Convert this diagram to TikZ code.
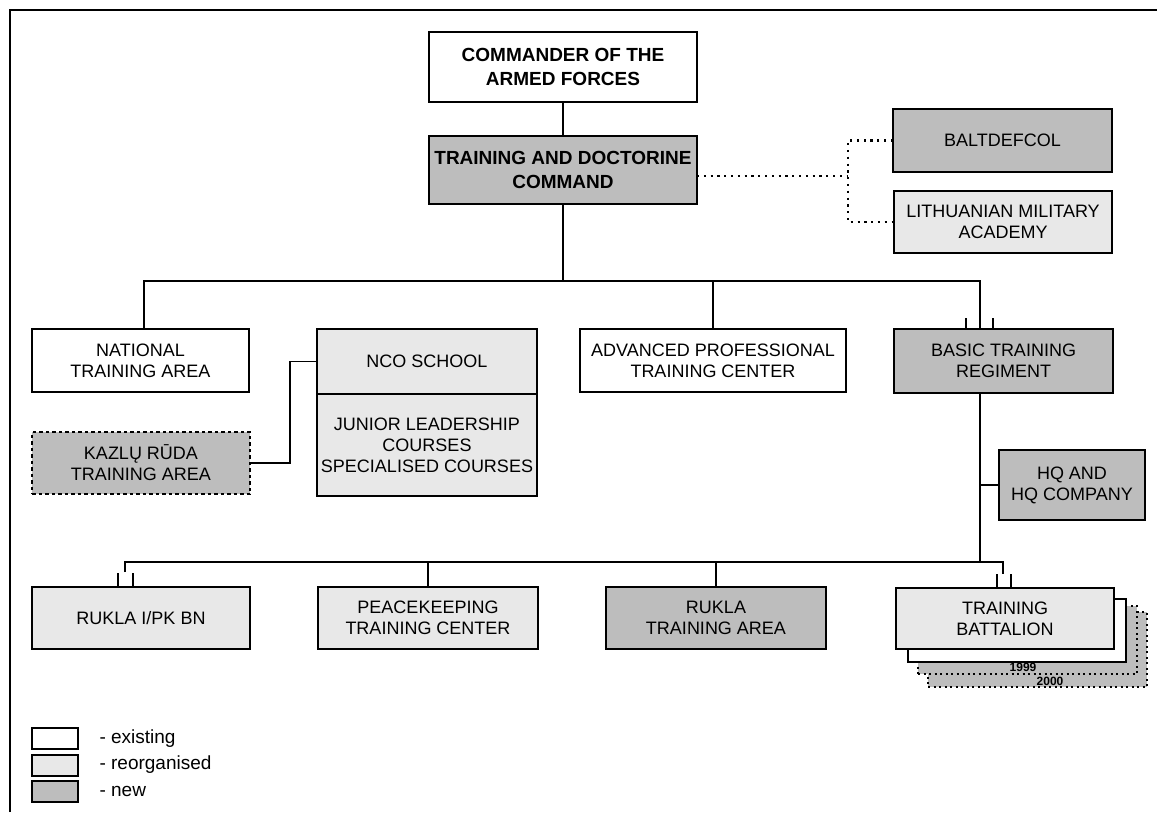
\documentclass[tikz,border=0pt]{standalone}
\usepackage{fontspec}
\setmainfont{Liberation Sans}
\definecolor{newfill}{gray}{0.74}
\definecolor{reofill}{gray}{0.91}
\begin{document}
\begin{tikzpicture}[x=1pt,y=-1pt,
  box/.style={draw, line width=2pt, align=center, inner sep=1pt, outer sep=0pt,
              font=\fontsize{18}{21}\selectfont},
  boldbox/.style={box, font=\fontsize{19}{24}\selectfont\bfseries},
  sz/.style 2 args={minimum width=#1pt, minimum height=#2pt},
  existing/.style={fill=white},
  reorg/.style={fill=reofill},
  newunit/.style={fill=newfill},
  conn/.style={line width=1.6pt},
  dotconn/.style={line width=2.2pt, dash pattern=on 2.2pt off 4.6pt},
  dashbox/.style={dash pattern=on 3.5pt off 3pt},
  dotbox/.style={draw, line width=2pt, dash pattern=on 2pt off 3.5pt, fill=newfill},
  legtext/.style={anchor=west, font=\fontsize{19}{22}\selectfont},
  yeartext/.style={font=\fontsize{12}{14}\selectfont\bfseries, inner sep=0pt},
]
\useasboundingbox (0,0) rectangle (1157,812);

% frame
\draw[line width=1.6pt] (10,812) -- (10,10) -- (1157,10);

% top
\node[boldbox, existing, sz={268}{70}] (cmd) at (563,67) {COMMANDER OF THE\\ARMED FORCES};
\node[boldbox, newunit, sz={268}{68}] (tradoc) at (563,170) {TRAINING AND DOCTORINE\\COMMAND};
\node[box, newunit, sz={219}{63}] (baltdefcol) at (1002.5,140.5) {BALTDEFCOL};
\node[box, reorg, sz={218}{62}] (lma) at (1003,222) {LITHUANIAN MILITARY\\ACADEMY};

% middle row
\node[box, existing, sz={217}{63}] (nta) at (140.5,360.5) {NATIONAL\\TRAINING AREA};
\node[box, newunit, dashbox, sz={218}{62}] (kazlu) at (141,463) {KAZLŲ RŪDA\\TRAINING AREA};
\node[box, reorg, sz={220}{65}] (nco) at (427,361.5) {NCO SCHOOL};
\node[box, reorg, sz={220}{102}] (jlc) at (427,445) {JUNIOR LEADERSHIP\\COURSES\\SPECIALISED COURSES};
\node[box, existing, sz={266}{63}] (aptc) at (713,360.5) {ADVANCED PROFESSIONAL\\TRAINING CENTER};
\node[box, newunit, sz={219}{64}] (btr) at (1003.5,361) {BASIC TRAINING\\REGIMENT};
\node[box, newunit, sz={146}{70}] (hq) at (1072,485) {HQ AND\\HQ COMPANY};

% bottom row
\node[box, reorg, sz={218}{62}] (rukla1) at (141,618) {RUKLA I/PK BN};
\node[box, reorg, sz={220}{62}] (pk) at (428,618) {PEACEKEEPING\\TRAINING CENTER};
\node[box, newunit, sz={220}{62}] (rta) at (716,618) {RUKLA\\TRAINING AREA};

% training battalion stack
\node[dotbox, sz={219}{75}] (tb4) at (1037.5,649.5) {};
\node[dotbox, sz={219}{68}] (tb3) at (1027.5,640) {};
\node[yeartext] (y1999) at (1023,667) {1999};
\node[yeartext] (y2000) at (1050,681) {2000};
\node[box, existing, sz={218}{63}] (tb2) at (1017,630.5) {};
\node[box, reorg, sz={218}{61}] (tb) at (1005,618.5) {TRAINING\\BATTALION};

% connectors: top
\draw[conn] (cmd.south) -- (tradoc.north);
\coordinate (busL) at (144,281);
\coordinate (busR) at (980,281);
\draw[conn] (tradoc.south) -- (tradoc.south |- busL);
\draw[conn] (nta.north -| busL) -- (busL) -- (busR) -- (busR |- btr.north);
\draw[conn] (aptc.north) -- (aptc.north |- busL);
\draw[conn] ([xshift=-14pt]busR |- btr.north) -- ++(0,-11);
\draw[conn] ([xshift=13pt]busR |- btr.north) -- ++(0,-11);

% dotted to BALTDEFCOL / academy
\coordinate (dv) at (848,176);
\draw[dotconn] (tradoc.east |- dv) -- (dv);
\draw[dotconn] (baltdefcol.west) -| (dv) |- (lma.west);

% Kazlu Ruda to NCO school
\coordinate (kz) at (290,0);
\draw[conn] (kazlu.east) -- (kazlu.east -| kz) |- (nco.west);

% regiment down
\coordinate (bbL) at (125,562);
\coordinate (bbR) at (1003,562);
\draw[conn] (btr.south -| busR) -- (busR |- bbR);
\draw[conn] (hq.west -| busR) -- (hq.west);
\draw[conn] (bbL) ++(0,10) -- (bbL) -- (bbR) -- ++(0,12);
\draw[conn] ([xshift=-7pt]bbL |- rukla1.north) -- ++(0,-14);
\draw[conn] ([xshift=8pt]bbL |- rukla1.north) -- ++(0,-14);
\draw[conn] (pk.north) -- (pk.north |- bbL);
\draw[conn] (rta.north) -- (rta.north |- bbL);
\draw[conn] ([xshift=-6pt]bbR |- tb.north) -- ++(0,-14);
\draw[conn] ([xshift=8pt]bbR |- tb.north) -- ++(0,-14);

% legend
\node[box, existing, sz={46}{21}] (lg1) at (55,738.5) {};
\node[box, reorg, sz={46}{21}] (lg2) at (55,765) {};
\node[box, newunit, sz={46}{21}] (lg3) at (55,791.5) {};
\node[legtext] (lt1) at (96,738.5) {- existing};
\node[legtext] (lt2) at (96,765) {- reorganised};
\node[legtext] (lt3) at (96,791.5) {- new};
\end{tikzpicture}
\end{document}
